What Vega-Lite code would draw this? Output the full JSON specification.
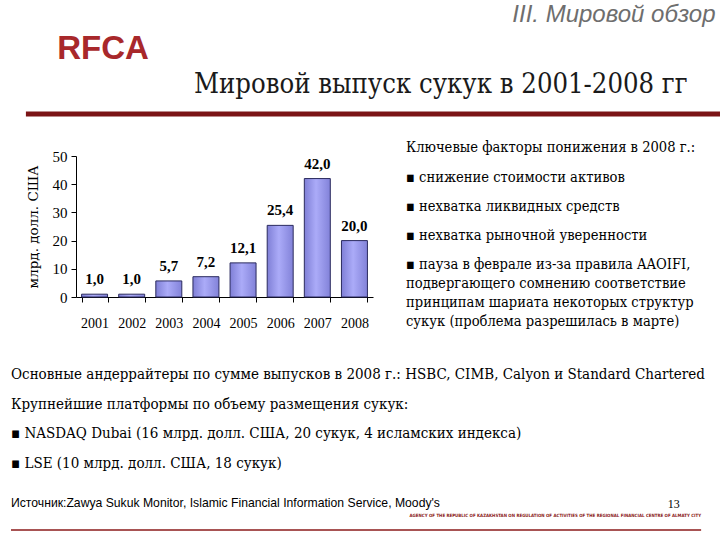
{
  "$schema": "https://vega.github.io/schema/vega-lite/v6.json",
  "background": "white",
  "padding": {"top": 3, "left": 10, "right": 0, "bottom": 0},
  "config": {
    "view": {"stroke": null},
    "locale": {"number": {"decimal": ",", "thousands": " ", "grouping": [3], "currency": ["", ""]}},
    "axis": {"grid": false}
  },
  "title": {"text": "III. Мировой обзор", "anchor": "end", "font": "Liberation Sans", "fontStyle": "italic", "fontWeight": "normal", "fontSize": 24, "color": "#6e6e6e", "dx": -8, "offset": 0},
  "spacing": 0,
  "vconcat": [
    {
      "width": 184, "height": 43,
      "data": {"values": [{"t": "RFCA"}]},
      "mark": {"type": "text", "font": "Liberation Sans", "fontWeight": "bold", "fontSize": 33, "color": "#a8282b"},
      "encoding": {"text": {"field": "t", "type": "nominal"}}
    },
    {
      "width": 710, "height": 29,
      "title": {"text": "Мировой выпуск сукук в 2001-2008 гг", "anchor": "start", "dx": 183, "font": "DejaVu Serif Condensed, DejaVu Serif", "fontSize": 27.2, "fontWeight": "normal", "color": "#1a1a1a", "offset": 12},
      "data": {"values": [{"part": "header line"}]},
      "mark": {"type": "rule", "color": "#7b1416", "strokeWidth": 5},
      "encoding": {
        "x": {"datum": 0.021, "type": "quantitative", "scale": {"domain": [0, 1]}, "axis": null},
        "x2": {"datum": 1},
        "y": {"datum": 0.897, "type": "quantitative", "scale": {"domain": [0, 1]}, "axis": null}
      }
    },
    {
      "spacing": 33,
      "hconcat": [
        {
          "width": 362, "height": 141,
          "data": {"values": [
            {"year": "2001", "value": 1.0},
            {"year": "2002", "value": 1.0},
            {"year": "2003", "value": 5.7},
            {"year": "2004", "value": 7.2},
            {"year": "2005", "value": 12.1},
            {"year": "2006", "value": 25.4},
            {"year": "2007", "value": 42.0},
            {"year": "2008", "value": 20.0}
          ]},
          "encoding": {
            "x": {"field": "year", "type": "ordinal", "scale": {"range": [65, 362], "paddingInner": 0.3, "paddingOuter": 0.15},
              "axis": {"title": null, "labelAngle": 0, "labelFont": "Liberation Serif", "labelFontSize": 14, "labelColor": "#000", "labelPadding": 14, "tickBand": "extent", "tickSize": 5, "tickColor": "#000", "domainColor": "#000"}},
            "y": {"field": "value", "type": "quantitative", "scale": {"domain": [0, 50]},
              "axis": {"offset": -65, "values": [0, 10, 20, 30, 40, 50], "title": "млрд. долл. США", "titleFont": "DejaVu Serif", "titleFontSize": 13.5, "titleFontWeight": "normal", "titleColor": "#000", "titlePadding": 12, "labelFont": "Liberation Serif", "labelFontSize": 15, "labelColor": "#000", "labelPadding": 4, "tickSize": 5, "tickColor": "#000", "domainColor": "#000"}}
          },
          "layer": [
            {"mark": {"type": "bar", "fill": {"gradient": "linear", "x1": 0, "x2": 1, "y1": 0, "y2": 0, "stops": [{"offset": 0, "color": "#7f7fd6"}, {"offset": 0.45, "color": "#ababf8"}, {"offset": 1, "color": "#8282d9"}]}, "stroke": "#2b2b5e", "strokeWidth": 1}},
            {"mark": {"type": "text", "baseline": "bottom", "dy": -7, "font": "Liberation Serif", "fontWeight": "bold", "fontSize": 15, "color": "#000"},
              "encoding": {"text": {"field": "value", "type": "quantitative", "format": ".1f"}}}
          ]
        },
        {
          "width": 300, "height": 115,
          "title": {"text": "Ключевые факторы понижения в 2008 г.:", "anchor": "start", "font": "DejaVu Serif Condensed, DejaVu Serif", "fontSize": 14.6, "fontWeight": "normal", "color": "#000", "offset": 1},
          "data": {"values": [
            {"p": 1, "t": "▪ снижение стоимости активов"},
            {"p": 2, "t": "▪ нехватка ликвидных средств"},
            {"p": 3, "t": "▪ нехватка рыночной уверенности"},
            {"p": 4, "t": "▪ пауза в феврале из-за правила AAOIFI,\nподвергающего сомнению соответствие\nпринципам шариата некоторых структур\nсукук (проблема разрешилась в марте)"}
          ]},
          "mark": {"type": "text", "align": "left", "baseline": "top", "font": "DejaVu Serif Condensed, DejaVu Serif", "fontSize": 14.6, "lineHeight": 19, "lineBreak": "\n", "color": "#000"},
          "encoding": {
            "x": {"datum": 0, "type": "quantitative", "scale": {"domain": [0, 1]}, "axis": null},
            "y": {"field": "p", "type": "ordinal", "scale": {"type": "point", "padding": 0.483}, "axis": null},
            "text": {"field": "t", "type": "nominal"}
          }
        }
      ]
    },
    {
      "width": 710, "height": 126,
      "data": {"values": [
        {"i": 0, "t": "Основные андеррайтеры по сумме выпусков в 2008 г.: HSBC, CIMB, Calyon и Standard Chartered"},
        {"i": 1, "t": "Крупнейшие платформы по объему размещения сукук:"},
        {"i": 2, "t": "▪ NASDAQ Dubai (16 млрд. долл. США, 20 сукук, 4 исламских индекса)"},
        {"i": 3, "t": "▪ LSE (10 млрд. долл. США, 18 сукук)"}
      ]},
      "mark": {"type": "text", "align": "left", "baseline": "top", "font": "DejaVu Serif Condensed, DejaVu Serif", "fontSize": 15, "color": "#000"},
      "encoding": {
        "x": {"datum": 0, "type": "quantitative", "scale": {"domain": [0, 1]}, "axis": null},
        "y": {"field": "i", "type": "ordinal", "scale": {"type": "point", "padding": 0.623, "align": 1}, "axis": null},
        "text": {"field": "t", "type": "nominal"}
      }
    },
    {
      "width": 710, "height": 59,
      "data": {"values": [
        {"role": "source", "t": "Источник:Zawya Sukuk Monitor, Islamic Financial Information Service, Moody's"},
        {"role": "page", "t": "13"},
        {"role": "agency", "t": "AGENCY OF THE REPUBLIC OF KAZAKHSTAN ON REGULATION OF ACTIVITIES OF THE REGIONAL FINANCIAL CENTRE OF ALMATY CITY"}
      ]},
      "layer": [
        {
          "transform": [{"filter": "datum.role === 'source'"}],
          "mark": {"type": "text", "align": "left", "baseline": "middle", "font": "Liberation Sans", "fontSize": 12.2, "color": "#000"},
          "encoding": {
            "x": {"datum": 0, "type": "quantitative", "scale": {"domain": [0, 1]}, "axis": null},
            "y": {"datum": 0.458, "type": "quantitative", "scale": {"domain": [0, 1]}, "axis": null},
            "text": {"field": "t", "type": "nominal"}
          }
        },
        {
          "transform": [{"filter": "datum.role === 'page'"}],
          "mark": {"type": "text", "align": "left", "baseline": "middle", "font": "Liberation Serif", "fontSize": 12, "color": "#000"},
          "encoding": {
            "x": {"datum": 0.925, "type": "quantitative", "scale": {"domain": [0, 1]}, "axis": null},
            "y": {"datum": 0.441, "type": "quantitative", "scale": {"domain": [0, 1]}, "axis": null},
            "text": {"field": "t", "type": "nominal"}
          }
        },
        {
          "transform": [{"filter": "datum.role === 'agency'"}],
          "mark": {"type": "text", "align": "right", "baseline": "middle", "font": "DejaVu Sans Condensed, Liberation Sans", "fontWeight": "bold", "fontSize": 4.4, "color": "#8b1a1a"},
          "encoding": {
            "x": {"datum": 0.972, "type": "quantitative", "scale": {"domain": [0, 1]}, "axis": null},
            "y": {"datum": 0.237, "type": "quantitative", "scale": {"domain": [0, 1]}, "axis": null},
            "text": {"field": "t", "type": "nominal"}
          }
        },
        {
          "transform": [{"filter": "datum.role === 'source'"}],
          "mark": {"type": "rule", "color": "#8b1a1a", "strokeWidth": 1.5},
          "encoding": {
            "x": {"datum": 0, "type": "quantitative", "scale": {"domain": [0, 1]}, "axis": null},
            "x2": {"datum": 0.972},
            "y": {"datum": 0.0, "type": "quantitative", "scale": {"domain": [0, 1]}, "axis": null}
          }
        }
      ]
    }
  ]
}
